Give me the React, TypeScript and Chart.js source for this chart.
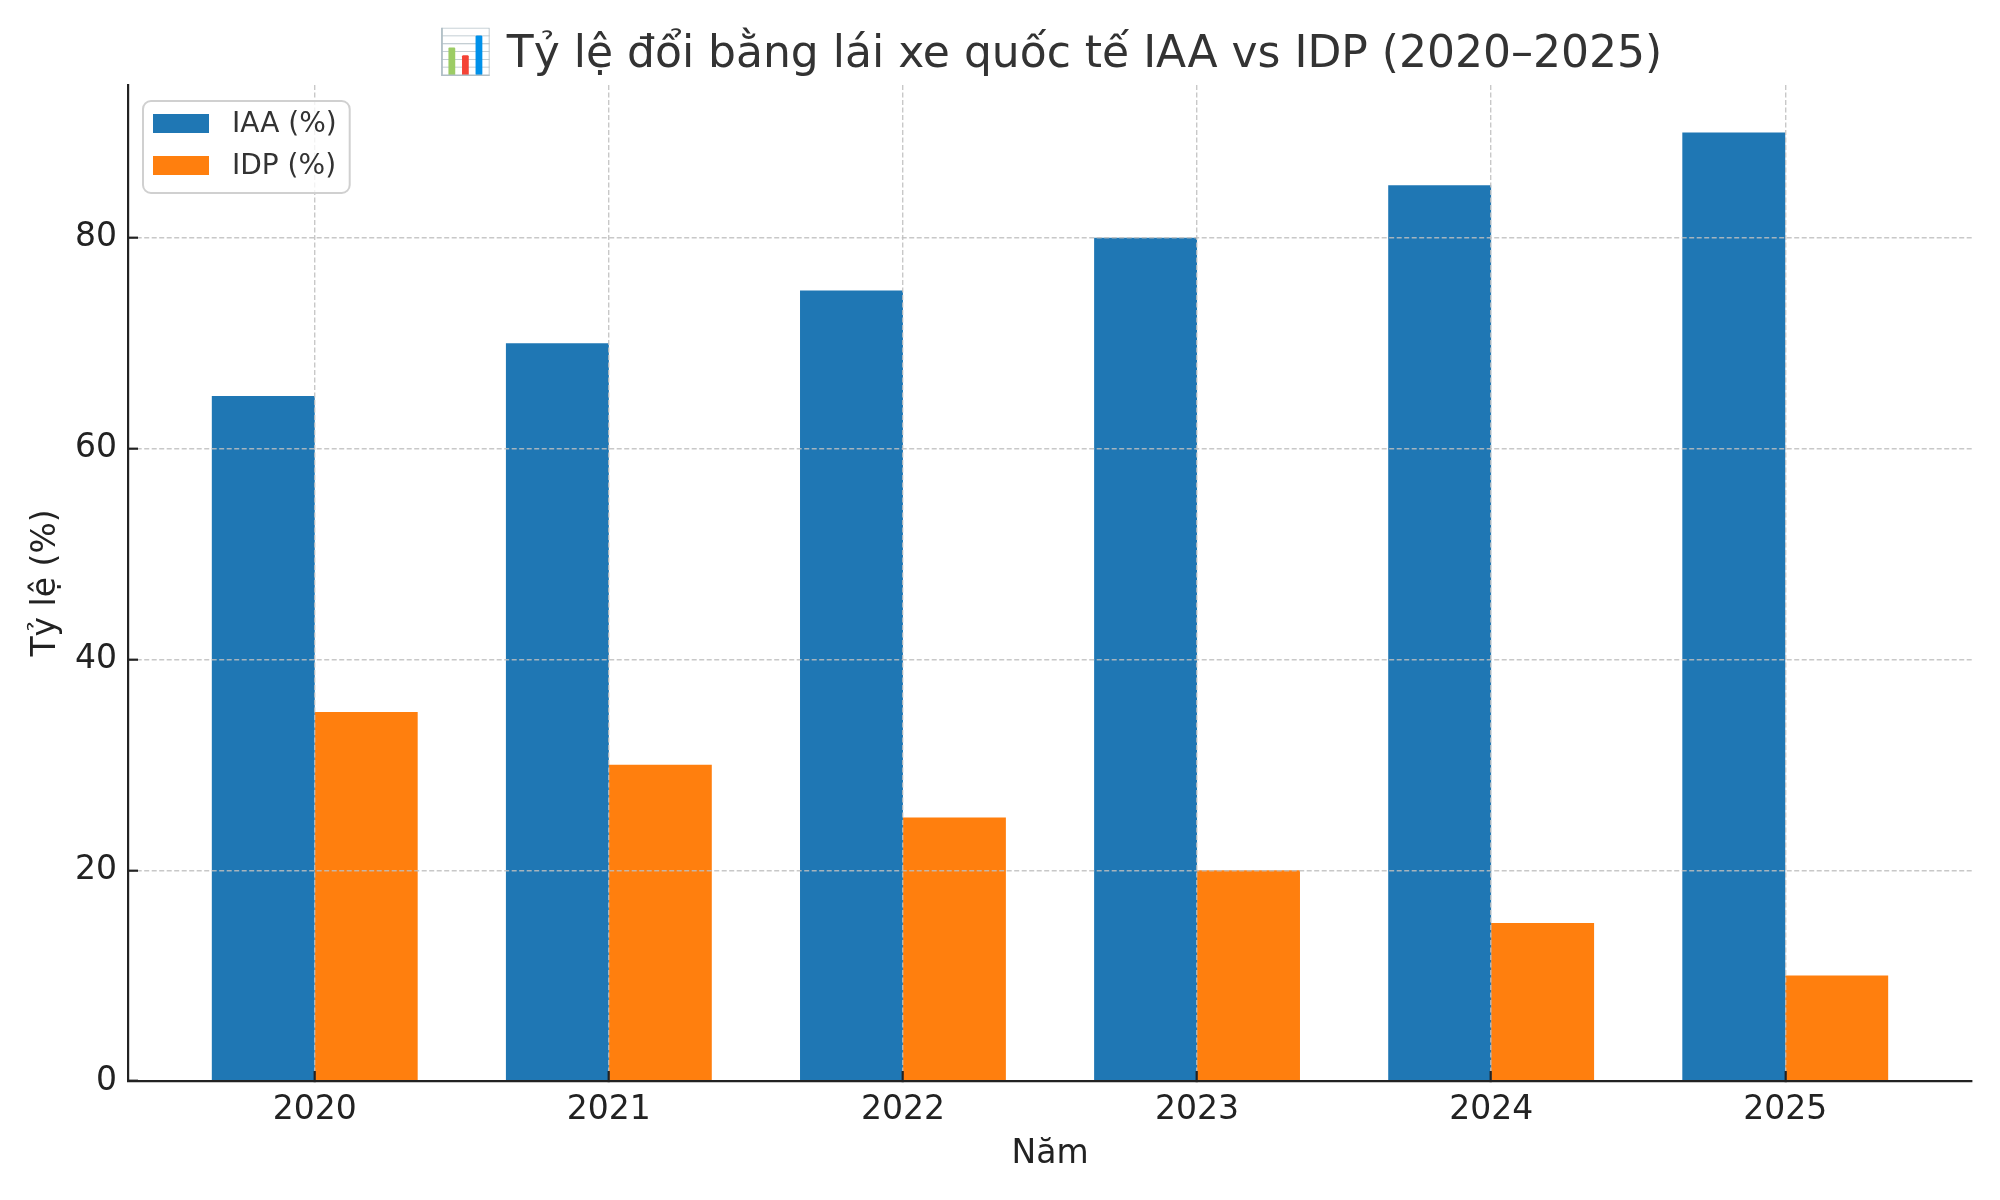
import React, { useEffect, useRef } from 'react';
import { Chart, registerables } from 'chart.js';

Chart.register(...registerables);

// Data
const years = ['2020', '2021', '2022', '2023', '2024', '2025'];
const iaaValues = [65, 70, 75, 80, 85, 90];
const idpValues = [35, 30, 25, 20, 15, 10];
const yTicks = [0, 20, 40, 60, 80];

const FONT = '"DejaVu Sans", "Noto Sans", sans-serif';

// matplotlib-like legend box in the upper left of the plot
const legendBox = {
  id: 'legendBox',
  afterDraw(chart: any) {
    const { ctx, chartArea } = chart;
    const left = chartArea.left + 15;
    const top = chartArea.top + 16;
    ctx.save();
    ctx.font = `28px ${FONT}`;
    const items = chart.data.datasets;
    const textW = Math.max(...items.map((d: any) => ctx.measureText(d.label).width));
    const w = 89 + textW + 13;
    const h = 92;
    ctx.beginPath();
    ctx.roundRect(left, top, w, h, 8);
    ctx.fillStyle = 'rgba(255,255,255,0.8)';
    ctx.fill();
    ctx.lineWidth = 2;
    ctx.strokeStyle = '#d0d0d0';
    ctx.stroke();
    items.forEach((d: any, i: number) => {
      const y = top + 13 + i * 42;
      ctx.fillStyle = d.backgroundColor;
      ctx.fillRect(left + 10, y, 56, 19);
      ctx.fillStyle = '#333';
      ctx.textBaseline = 'middle';
      ctx.textAlign = 'left';
      ctx.fillText(d.label, left + 89, y + 11);
    });
    ctx.restore();
  },
};

const gridStyle = {
  color: 'rgba(190,190,190,0.85)',
  lineWidth: 1.4,
  z: 1,
  drawTicks: true,
  tickLength: -10,
  tickColor: '#222',
  tickWidth: 2.2,
  tickBorderDash: [],
};

const borderStyle = {
  display: true,
  color: '#222',
  width: 2.2,
  dash: [5, 2.5],
  z: 2,
};

const BarChart = () => {
  const chartRef = useRef<HTMLCanvasElement>(null);

  useEffect(() => {
    if (!chartRef.current) return;
    const ctx = chartRef.current.getContext('2d');
    if (!ctx) return;

    const chart = new Chart(ctx, {
      type: 'bar',
      data: {
        datasets: [
          {
            label: 'IAA (%)',
            data: iaaValues.map((v, i) => ({ x: i, y: v })),
            backgroundColor: '#1f77b4',
            borderWidth: 0,
          },
          {
            label: 'IDP (%)',
            data: idpValues.map((v, i) => ({ x: i, y: v })),
            backgroundColor: '#ff7f0e',
            borderWidth: 0,
          },
        ],
      },
      options: {
        animation: false,
        responsive: true,
        maintainAspectRatio: false,
        datasets: {
          bar: {
            categoryPercentage: 0.7,
            barPercentage: 1.0,
          },
        },
        layout: {
          padding: { left: 0, right: 28, top: 0, bottom: 0 },
        },
        plugins: {
          legend: { display: false },
          tooltip: { enabled: false },
          title: {
            display: true,
            fullSize: false,
            text: '📊 Tỷ lệ đổi bằng lái xe quốc tế IAA vs IDP (2020–2025)',
            color: '#333',
            font: { family: FONT, size: 44, weight: 'normal' },
            padding: { top: 29.6, bottom: 2.6 },
          },
        },
        scales: {
          x: {
            type: 'linear',
            min: -0.635,
            max: 5.635,
            offset: false,
            grid: { ...gridStyle, offset: false },
            border: borderStyle,
            afterBuildTicks: (scale: any) => {
              scale.ticks = years.map((_, i) => ({ value: i }));
            },
            afterFit: (scale: any) => {
              scale.height = 119;
            },
            ticks: {
              padding: 20,
              color: '#222',
              font: { family: FONT, size: 33 },
              maxRotation: 0,
              autoSkip: false,
              callback: (value: any) => years[value] ?? '',
            },
            title: {
              display: true,
              text: 'Năm',
              color: '#222',
              font: { family: FONT, size: 33 },
              padding: { top: 0, bottom: 26 },
            },
          },
          y: {
            type: 'linear',
            min: 0,
            max: 94.5,
            grid: gridStyle,
            border: borderStyle,
            afterBuildTicks: (scale: any) => {
              scale.ticks = yTicks.map((v) => ({ value: v }));
            },
            afterFit: (scale: any) => {
              scale.width = 128;
            },
            ticks: {
              padding: 21,
              color: '#222',
              font: { family: FONT, size: 33 },
            },
            title: {
              display: true,
              text: 'Tỷ lệ (%)',
              color: '#222',
              font: { family: FONT, size: 33 },
              padding: { top: 27, bottom: 0 },
            },
          },
        },
      },
      plugins: [legendBox],
    });

    return () => {
      chart.destroy();
    };
  }, []);

  return (
    <div style={{ position: 'fixed', left: 0, top: 0, width: '2000px', height: '1200px', background: '#fff' }}>
      <canvas ref={chartRef} />
    </div>
  );
};

export default function App() {
  return <BarChart />;
}
